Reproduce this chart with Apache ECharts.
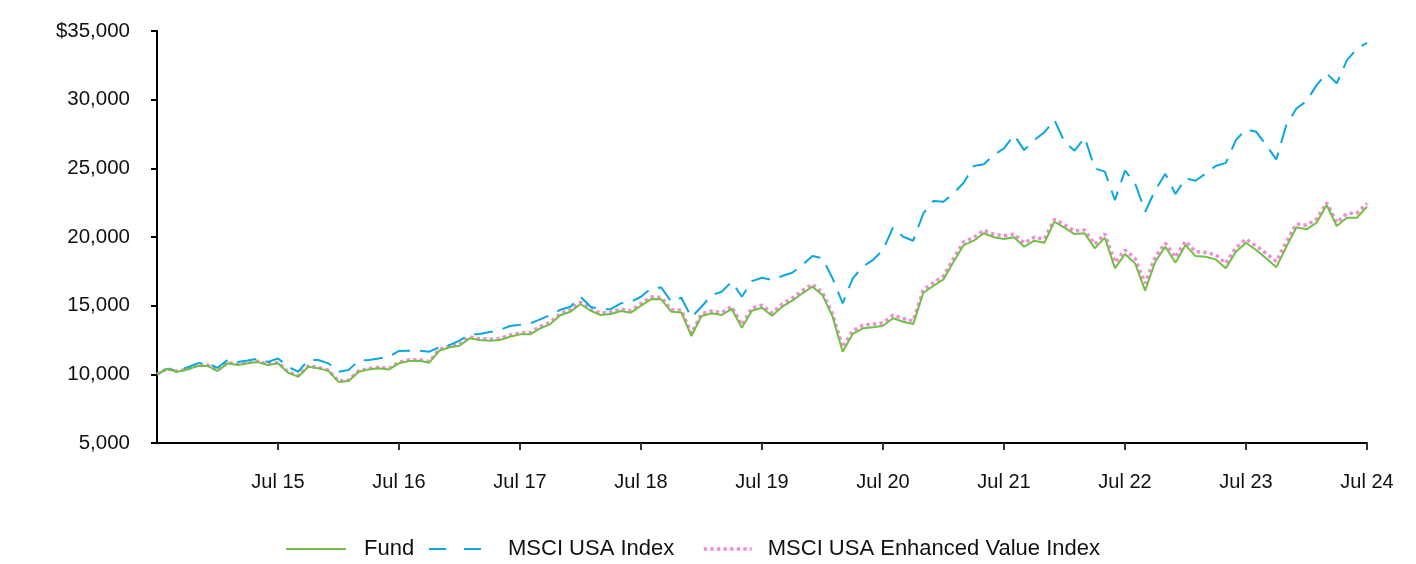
<!DOCTYPE html>
<html>
<head>
<meta charset="utf-8">
<script src="https://cdn.jsdelivr.net/npm/echarts@6/dist/echarts.min.js"></script>
<style>
html,body{margin:0;padding:0;background:#fff;}
#chart{width:1416px;height:564px;}
</style>
</head>
<body>
<div id="chart"></div>
<script>
// Month labels (Jul 2014 .. Jul 2024)
const monthNames = ['Jan','Feb','Mar','Apr','May','Jun','Jul','Aug','Sep','Oct','Nov','Dec'];
const startYear = 2014, startMonth = 6, monthCount = 121;
const categories = [];
for (let i = 0; i < monthCount; i++) {
  const m = (startMonth + i) % 12;
  const y = startYear + Math.floor((startMonth + i) / 12);
  categories.push(monthNames[m] + ' ' + String(y).slice(2));
}

const fund = [
10000,10390,10190,10350,10600,10630,10240,10800,10680,10800,10900,10680,
10800,10120,9830,10550,10440,10250,9450,9520,10190,10360,10440,10360,
10800,10970,10990,10850,11720,11970,12080,12620,12500,12450,12500,12740,
12910,12910,13350,13660,14300,14560,15120,14630,14320,14390,14610,14490,
15000,15480,15460,14560,14510,12790,14250,14440,14320,14760,13390,14630,
14850,14270,14920,15360,15900,16380,15770,14200,11650,12940,13350,13420,
13540,14080,13830,13660,15940,16430,16920,18200,19410,19730,20270,19980,
19850,19980,19290,19730,19580,21110,20680,20210,20270,19170,19950,17720,
18760,18080,16090,18200,19290,18130,19410,18610,18560,18370,17720,18930,
19580,19050,18450,17790,19290,20700,20560,21040,22330,20800,21400,21400,
22210
];

const msciUsa = [
10000,10400,10250,10500,10800,10800,10480,11040,10900,11000,11150,10900,
11160,10550,10190,11040,11040,10800,10190,10310,11000,11040,11160,11280,
11700,11720,11720,11650,11970,12130,12450,12910,12930,13080,13230,13520,
13610,13710,14000,14320,14700,14920,15650,14920,14730,14750,15170,15270,
15650,16260,16330,15290,15580,14150,14920,15770,16010,16740,15650,16790,
17030,16870,17160,17400,17960,18620,18450,16990,15170,16990,17840,18320,
19050,20700,20020,19730,21720,22620,22570,23180,23950,25170,25300,25970,
26460,27420,26330,27060,27620,28520,26930,26280,27250,25000,24760,22690,
24830,23910,21840,23420,24600,23130,24270,24100,24630,25170,25400,27060,
27840,27670,26690,25650,28150,29360,29890,31060,31910,31190,32860,33710,
34140
];

const msciEnhancedValue = [
10000,10420,10220,10380,10640,10670,10280,10850,10730,10850,10960,10740,
10860,10180,9890,10610,10500,10310,9500,9580,10250,10430,10510,10430,
10880,11050,11070,10930,11810,12060,12180,12720,12600,12560,12610,12850,
13020,13030,13470,13790,14420,14690,15250,14760,14460,14530,14750,14640,
15150,15630,15610,14710,14680,12980,14410,14610,14490,14930,13600,14820,
15040,14460,15110,15550,16090,16560,15950,14400,11950,13180,13580,13640,
13760,14310,14060,13900,16160,16660,17160,18450,19640,19960,20490,20200,
20090,20220,19560,19990,19850,21280,20900,20440,20510,19480,20230,18150,
19050,18440,16620,18550,19560,18520,19690,18940,18880,18700,18080,19230,
19850,19350,18800,18220,19630,20950,20860,21310,22500,21050,21700,21750,
22450
];

const seriesNames = ['Fund', 'MSCI USA Index', 'MSCI USA Enhanced Value Index'];

const FONT = '"Liberation Sans", Arial, Helvetica, sans-serif';
const GREEN = '#72c043';
const BLUE = '#0aa7e0';
const PINK = '#f28ad8';

const chart = echarts.init(document.getElementById('chart'), null, {renderer: 'canvas'});
const yearTick = (idx) => idx > 0 && idx % 12 === 0;

const legendText = {fontFamily: FONT, fontSize: 22, color: '#111'};

chart.setOption({
  animation: false,
  backgroundColor: '#ffffff',
  grid: {left: 157, right: 49, top: 31, bottom: 121, containLabel: false},
  legend: [
    {data: [seriesNames[0]], left: 285, top: 538, padding: 0, itemWidth: 60, itemHeight: 20, itemGap: 0,
     itemStyle: {opacity: 0},
     lineStyle: {color: GREEN, width: 2, type: 'solid'},
     textStyle: Object.assign({padding: [0,0,0,13]}, legendText)},
    {data: [seriesNames[1]], left: 428, top: 538, padding: 0, itemWidth: 52, itemHeight: 20, itemGap: 0,
     itemStyle: {opacity: 0},
     lineStyle: {color: BLUE, width: 2, type: [17, 18]},
     textStyle: Object.assign({padding: [0,0,0,22]}, legendText)},
    {data: [seriesNames[2]], left: 702, top: 538, padding: 0, itemWidth: 48, itemHeight: 20, itemGap: 0,
     itemStyle: {opacity: 0},
     lineStyle: {color: PINK, width: 3.5, type: [3.3, 3.3]},
     textStyle: Object.assign({padding: [0,0,0,11]}, legendText)}
  ],
  xAxis: {
    type: 'category',
    data: categories,
    boundaryGap: false,
    axisLine: {lineStyle: {color: '#000', width: 2}},
    axisTick: {show: true, interval: yearTick, length: 7, lineStyle: {color: '#333', width: 2}},
    axisLabel: {interval: yearTick, margin: 29, fontFamily: FONT, fontSize: 20, color: '#111'},
    splitLine: {show: false}
  },
  yAxis: {
    type: 'value',
    min: 5000, max: 35000, interval: 5000,
    axisLine: {show: true, lineStyle: {color: '#000', width: 2}},
    axisTick: {show: true, length: 6, lineStyle: {color: '#000', width: 2}},
    axisLabel: {
      margin: 27, fontFamily: FONT, fontSize: 20.5, color: '#111',
      formatter: (v) => (v === 35000 ? '$' : '') + v.toLocaleString('en-US')
    },
    splitLine: {show: false}
  },
  series: [
    {
      name: seriesNames[0], type: 'line', data: fund, showSymbol: false, symbol: 'none', z: 4,
      lineStyle: {color: GREEN, width: 2}, itemStyle: {color: GREEN}
    },
    {
      name: seriesNames[1], type: 'line', data: msciUsa, showSymbol: false, symbol: 'none', z: 3,
      lineStyle: {color: BLUE, width: 2, type: [19, 10]}, itemStyle: {color: BLUE}
    },
    {
      name: seriesNames[2], type: 'line', data: msciEnhancedValue, showSymbol: false, symbol: 'none', z: 2,
      lineStyle: {color: PINK, width: 3.5, type: [3.3, 3.3]}, itemStyle: {color: PINK}
    }
  ]
});
</script>
</body>
</html>
